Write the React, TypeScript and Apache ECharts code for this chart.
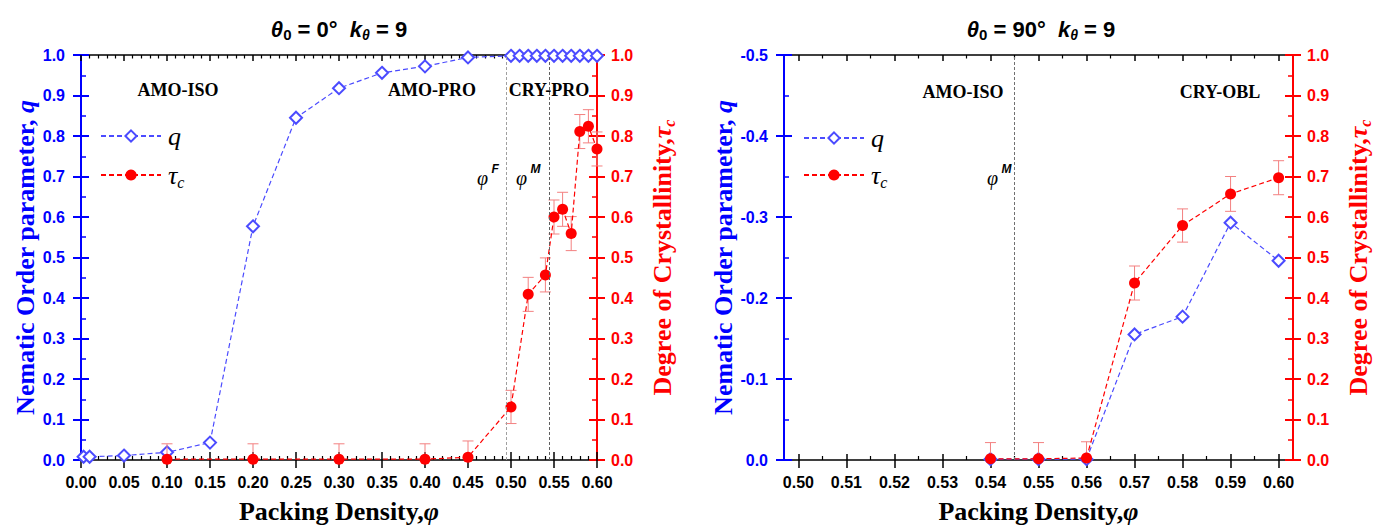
import React, { useEffect, useRef } from "react";
import * as echarts from "echarts";

// ---------- data ----------
// Left panel: theta0 = 0 deg
const leftQX = [0.003, 0.01, 0.05, 0.1, 0.15, 0.2, 0.25, 0.3, 0.35, 0.4, 0.45, 0.5, 0.51, 0.52, 0.53, 0.54, 0.55, 0.56, 0.57, 0.58, 0.59, 0.6];
const leftQ = [0.008, 0.008, 0.011, 0.019, 0.043, 0.577, 0.845, 0.918, 0.956, 0.972, 0.994, 0.998, 0.998, 0.998, 0.998, 0.998, 0.998, 0.998, 0.998, 0.998, 0.998, 0.998];
const leftTauX = [0.1, 0.2, 0.3, 0.4, 0.45, 0.5, 0.52, 0.54, 0.55, 0.56, 0.57, 0.58, 0.59, 0.6];
const leftTau = [0.002, 0.002, 0.002, 0.002, 0.007, 0.131, 0.409, 0.457, 0.6, 0.619, 0.559, 0.811, 0.824, 0.768];
const leftTauErr = [0.038, 0.038, 0.038, 0.038, 0.04, 0.041, 0.042, 0.042, 0.042, 0.042, 0.042, 0.042, 0.041, 0.042];
const leftPhiLines = [0.494, 0.545];

// Right panel: theta0 = 90 deg
const rightQX = [0.54, 0.55, 0.56, 0.57, 0.58, 0.59, 0.6];
const rightQ = [-0.001, -0.001, -0.001, -0.155, -0.177, -0.293, -0.246];
const rightTauX = [0.54, 0.55, 0.56, 0.57, 0.58, 0.59, 0.6];
const rightTau = [0.003, 0.003, 0.005, 0.437, 0.579, 0.657, 0.697];
const rightTauErr = [0.04, 0.04, 0.04, 0.042, 0.041, 0.043, 0.042];
const rightPhiLines = [0.545];

// tick values
const rightMajorTicks = [0.5, 0.51, 0.52, 0.53, 0.54, 0.55, 0.56, 0.57, 0.58, 0.59, 0.6];
const rightMinorTicks = [0.505, 0.515, 0.525, 0.535, 0.545, 0.555, 0.565, 0.575, 0.585, 0.595];

// ---------- styles ----------
const SANS = '"Liberation Sans", Arial, Helvetica, sans-serif';
const SERIF = '"Liberation Serif", "Times New Roman", serif';
const BLUE_AX = "#0000ff";
const RED_AX = "#ff0000";
const BLUE_DATA = "#4b4bff";
const RED_DATA = "#ff0000";
const ERR = "#f38080";

const zip = (xs: number[], ys: number[]) => xs.map((x, i) => [x, ys[i]]);
const zip3 = (xs: number[], ys: number[], es: number[]) => xs.map((x, i) => [x, ys[i], es[i]]);

const tickLabel = (color: string) => ({
  color,
  fontFamily: SANS,
  fontWeight: "bold" as const,
  fontSize: 16,
});

const fmt1 = (v: number) => (Math.abs(v) < 1e-9 ? "0.0" : v.toFixed(1));
const fmt2 = (v: number) => (Math.abs(v) < 1e-9 ? "0.00" : v.toFixed(2));

const nameSerif = (color: string) => ({
  a: { color, fontFamily: SERIF, fontWeight: "bold" as const, fontSize: 26, lineHeight: 30 },
  b: { color, fontFamily: SERIF, fontWeight: "bold" as const, fontStyle: "italic" as const, fontSize: 26, lineHeight: 30 },
  s: { color, fontFamily: SERIF, fontWeight: "bold" as const, fontStyle: "italic" as const, fontSize: 16, lineHeight: 8, verticalAlign: "bottom" as const },
});

function xAxesFor(grid: number, min: number, max: number, custom: boolean) {
  const base: any = {
    gridIndex: grid,
    type: "value",
    min,
    max,
    splitLine: { show: false },
  };
  if (!custom) base.interval = 0.05;
  const black = { color: "#000", width: 1.5 };
  const main: any = {
    ...base,
    position: "bottom",
    axisLine: { show: true, onZero: false, lineStyle: black },
    axisTick: { show: true, inside: false, length: 8, lineStyle: black, ...(custom ? { customValues: rightMajorTicks } : {}) },
    axisLabel: { show: true, margin: 14, ...tickLabel("#000"), formatter: fmt2, ...(custom ? { customValues: rightMajorTicks } : {}) },
    name: "{a|Packing Density,}{b|φ}",
    nameLocation: "middle",
    nameGap: 36,
    nameTextStyle: { rich: nameSerif("#000") },
  };
  const bottomIn: any = {
    ...base,
    position: "bottom",
    axisLine: { show: false, onZero: false },
    axisTick: { show: true, inside: true, length: custom ? 6 : 8, lineStyle: black, ...(custom ? { customValues: rightMajorTicks } : {}) },
    minorTick: custom ? { show: false } : { show: true, splitNumber: 5, length: 4, lineStyle: { color: "#000", width: 1.2 } },
    axisLabel: { show: false },
  };
  const top: any = {
    ...base,
    position: "top",
    axisLine: { show: true, onZero: false, lineStyle: black },
    axisTick: { show: true, inside: true, length: 6, lineStyle: black, ...(custom ? { customValues: rightMajorTicks } : {}) },
    minorTick: custom ? { show: false } : { show: true, splitNumber: 5, length: 3.5, lineStyle: { color: "#000", width: 1.2 } },
    axisLabel: { show: false },
  };
  const list = [main, bottomIn, top];
  if (custom) {
    list.push({
      ...base,
      position: "bottom",
      axisLine: { show: false, onZero: false },
      axisTick: { show: true, inside: true, length: 4, lineStyle: { color: "#000", width: 1.2 }, customValues: rightMinorTicks },
      axisLabel: { show: false },
    });
    list.push({
      ...base,
      position: "top",
      axisLine: { show: false, onZero: false },
      axisTick: { show: true, inside: true, length: 3.5, lineStyle: { color: "#000", width: 1.2 }, customValues: rightMinorTicks },
      axisLabel: { show: false },
    });
  }
  return list;
}

function yAxesFor(grid: number, qMin: number, qMax: number, inverse: boolean) {
  const blue = { color: BLUE_AX, width: 2 };
  const red = { color: RED_AX, width: 2 };
  const qBase: any = { gridIndex: grid, type: "value", min: qMin, max: qMax, interval: 0.1, inverse, position: "left", splitLine: { show: false } };
  const tBase: any = { gridIndex: grid, type: "value", min: 0, max: 1, interval: 0.1, position: "right", splitLine: { show: false } };
  return [
    {
      ...qBase,
      axisLine: { show: true, onZero: false, lineStyle: blue },
      axisTick: { show: true, inside: false, length: 8, lineStyle: blue },
      axisLabel: { show: true, margin: 16, ...tickLabel(BLUE_AX), formatter: fmt1 },
      name: "{a|Nematic Order parameter, }{b|q}",
      nameLocation: "middle",
      nameGap: 38,
      nameTextStyle: { rich: nameSerif(BLUE_AX) },
    },
    {
      ...qBase,
      axisLine: { show: false, onZero: false },
      axisTick: { show: true, inside: true, length: 8, lineStyle: blue },
      minorTick: { show: true, splitNumber: 2, length: 5, lineStyle: { color: BLUE_AX, width: 1.5 } },
      axisLabel: { show: false },
    },
    {
      ...tBase,
      axisLine: { show: true, onZero: false, lineStyle: red },
      axisTick: { show: true, inside: false, length: 8, lineStyle: red },
      axisLabel: { show: true, margin: 14, ...tickLabel(RED_AX), formatter: fmt1 },
      name: "{a|Degree of Crystallinity,}{b|τ}{s|c}",
      nameLocation: "middle",
      nameGap: 50,
      nameTextStyle: { rich: nameSerif(RED_AX) },
    },
    {
      ...tBase,
      axisLine: { show: false, onZero: false },
      axisTick: { show: true, inside: true, length: 8, lineStyle: red },
      minorTick: { show: true, splitNumber: 2, length: 5, lineStyle: { color: RED_AX, width: 1.5 } },
      axisLabel: { show: false },
    },
  ];
}

const errorBarRender = (params: any, api: any) => {
  const x = api.value(0);
  const y = api.value(1);
  const e = api.value(2);
  const lo = Math.max(0, y - e);
  const hi = y + e;
  const pHi = api.coord([x, hi]);
  const pLo = api.coord([x, lo]);
  const w = 5.5;
  const style = { stroke: ERR, lineWidth: 1 };
  const children: any[] = [
    { type: "line", shape: { x1: pHi[0], y1: pHi[1], x2: pLo[0], y2: pLo[1] }, style },
    { type: "line", shape: { x1: pHi[0] - w, y1: pHi[1], x2: pHi[0] + w, y2: pHi[1] }, style },
  ];
  if (y - e > 0) {
    children.push({ type: "line", shape: { x1: pLo[0] - w, y1: pLo[1], x2: pLo[0] + w, y2: pLo[1] }, style });
  }
  return { type: "group", children };
};

function seriesFor(grid: number, xBase: number, yBase: number, qx: number[], q: number[], tx: number[], t: number[], te: number[], phi: number[], phiColors: string[]) {
  return [
    {
      name: "q",
      type: "line",
      xAxisIndex: xBase,
      yAxisIndex: yBase,
      data: zip(qx, q),
      symbol: "emptyDiamond",
      symbolSize: 12,
      showAllSymbol: true,
      lineStyle: { color: BLUE_DATA, width: 1.2, type: [5, 3] },
      itemStyle: { color: BLUE_DATA, borderColor: BLUE_DATA, borderWidth: 1.2 },
      z: 2,
    },
    {
      name: "errτ" + grid,
      type: "custom",
      xAxisIndex: xBase,
      yAxisIndex: yBase + 2,
      data: zip3(tx, t, te),
      encode: { x: 0, y: 1 },
      renderItem: errorBarRender,
      z: 3,
    },
    {
      name: "τc",
      type: "line",
      xAxisIndex: xBase,
      yAxisIndex: yBase + 2,
      data: zip(tx, t),
      symbol: "circle",
      symbolSize: 11,
      showAllSymbol: true,
      lineStyle: { color: RED_DATA, width: 1.2, type: [5, 3] },
      itemStyle: { color: RED_DATA },
      z: 4,
      markLine: {
        silent: true,
        precision: 4,
        symbol: ["none", "none"],
        label: { show: false },
        lineStyle: { width: 1, type: [3, 2] },
        data: phi.map((v, i) => ({ xAxis: v, lineStyle: { color: phiColors[i], width: 1, type: [3, 2] } })),
      },
    },
  ];
}

const titleRich = {
  i: { fontFamily: SANS, fontWeight: "bold" as const, fontStyle: "italic" as const, fontSize: 22, lineHeight: 26, fill: "#000" },
  n: { fontFamily: SANS, fontWeight: "bold" as const, fontSize: 22, lineHeight: 26, fill: "#000" },
  s: { fontFamily: SANS, fontWeight: "bold" as const, fontStyle: "italic" as const, fontSize: 14, lineHeight: 6, verticalAlign: "bottom" as const, fill: "#000" },
  s0: { fontFamily: SANS, fontWeight: "bold" as const, fontSize: 15, lineHeight: 6, verticalAlign: "bottom" as const, fill: "#000" },
};

const phiRich = {
  p: { fontFamily: SERIF, fontStyle: "italic" as const, fontSize: 20, lineHeight: 22, fill: "#000" },
  s: { fontFamily: SANS, fontStyle: "italic" as const, fontWeight: "bold" as const, fontSize: 12, lineHeight: 30, verticalAlign: "top" as const, fill: "#000" },
};

function titleText(x: number, text: string) {
  return {
    type: "text",
    x,
    y: 29,
    style: { text, rich: titleRich, align: "center", verticalAlign: "middle", textAlign: "center", textVerticalAlign: "middle" },
    silent: true,
  };
}

function regionText(x: number, y: number, text: string) {
  return {
    type: "text",
    x,
    y,
    style: {
      text,
      fontFamily: SERIF,
      fontWeight: "bold",
      fontSize: 18,
      fill: "#000",
      align: "center",
      verticalAlign: "middle",
      textAlign: "center",
      textVerticalAlign: "middle",
    },
    silent: true,
  };
}

function phiText(x: number, y: number, sup: string) {
  return {
    type: "text",
    x,
    y,
    style: { text: `{p|φ}{s| ${sup}}`, rich: phiRich, align: "left", verticalAlign: "middle", textAlign: "left", textVerticalAlign: "middle" },
    silent: true,
  };
}

const legendRich = {
  i: { fontFamily: SERIF, fontStyle: "italic" as const, fontSize: 26, lineHeight: 30, color: "#000" },
  s: { fontFamily: SERIF, fontStyle: "italic" as const, fontSize: 16, lineHeight: 8, verticalAlign: "bottom" as const, color: "#000" },
};

function legendFor(left: number, top: number, gap: number) {
  return {
    orient: "vertical",
    left,
    top,
    padding: 0,
    itemWidth: 60,
    itemHeight: 14,
    itemGap: gap,
    selectedMode: false,
    data: ["q", "τc"],
    formatter: (name: string) => (name === "q" ? "{i|q}" : "{i|τ}{s|c}"),
    textStyle: { rich: legendRich, padding: [0, 0, 0, 2] },
  };
}

const option: any = {
  animation: false,
  backgroundColor: "#ffffff",
  grid: [
    { left: 81, right: 777, top: 55, bottom: 61, containLabel: false },
    { left: 784, right: 77, top: 55, bottom: 61, containLabel: false },
  ],
  xAxis: [...xAxesFor(0, 0, 0.6, false), ...xAxesFor(1, 0.497, 0.603, true)],
  yAxis: [...yAxesFor(0, 0, 1, false), ...yAxesFor(1, -0.5, 0, true)],
  legend: [legendFor(100, 123, 13), legendFor(803, 125, 11)],
  series: [
    ...seriesFor(0, 0, 0, leftQX, leftQ, leftTauX, leftTau, leftTauErr, leftPhiLines, ["#a0a0a0", "#606060"]),
    ...seriesFor(1, 3, 4, rightQX, rightQ, rightTauX, rightTau, rightTauErr, rightPhiLines, ["#707070"]),
  ],
  graphic: [
    titleText(339, "{i|θ}{s0|0}{n| = 0°  }{i|k}{s|θ}{n| = 9}"),
    titleText(1041, "{i|θ}{s0|0}{n| = 90°  }{i|k}{s|θ}{n| = 9}"),
    regionText(178, 90, "AMO-ISO"),
    regionText(432, 90, "AMO-PRO"),
    regionText(549, 90, "CRY-PRO"),
    regionText(963, 92, "AMO-ISO"),
    regionText(1220, 92, "CRY-OBL"),
    phiText(477, 178, "F"),
    phiText(516, 178, "M"),
    phiText(987, 178, "M"),
  ],
};

export default function App() {
  const ref = useRef<HTMLDivElement>(null);
  useEffect(() => {
    if (!ref.current) return;
    const chart = echarts.init(ref.current, null, { renderer: "svg" });
    chart.setOption(option);
    return () => chart.dispose();
  }, []);
  return (
    <div
      ref={ref}
      style={{ position: "absolute", left: 0, top: 0, width: 1374, height: 529, background: "#fff" }}
    />
  );
}
